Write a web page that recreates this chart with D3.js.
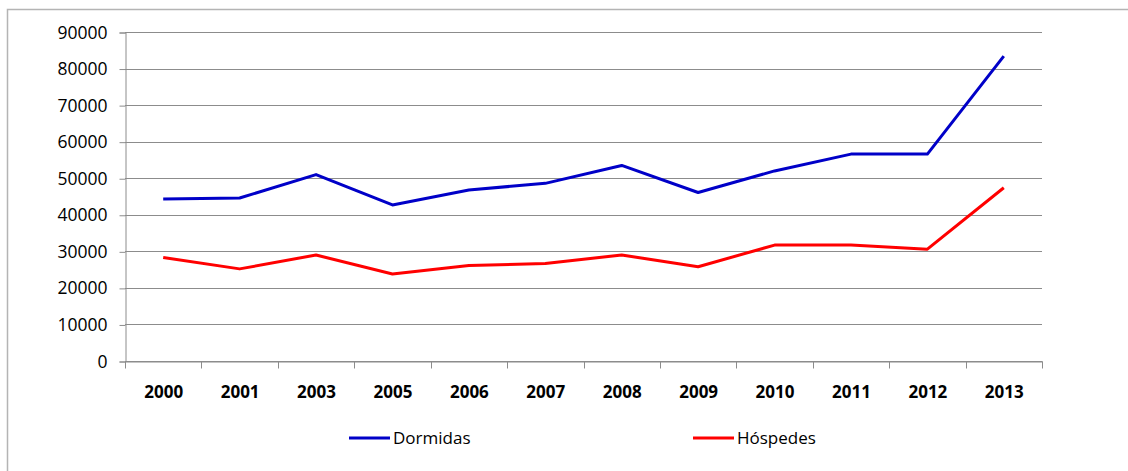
<!DOCTYPE html>
<html><head><meta charset="utf-8">
<script src="https://cdn.jsdelivr.net/npm/d3@7"></script>
<style>body{margin:0;background:#fff;}svg{display:block;}</style>
</head><body>
<svg id="c" width="1128" height="471"></svg>
<script>
const categories = ["2000","2001","2003","2005","2006","2007","2008","2009","2010","2011","2012","2013"];
const dormidas = [44300,44600,51000,42700,46800,48600,53500,46100,52000,56600,56600,83400];
const hospedes = [28300,25200,29000,23800,26100,26700,29000,25800,31700,31700,30600,47400];
const yTicks = [0,10000,20000,30000,40000,50000,60000,70000,80000,90000];
const seriesNames = ["Dormidas","Hóspedes"];
const colors = ["#0000c8","#ff0000"];

(function(){
const svg = d3.select("#c");
const font = "'Open Sans', 'Liberation Sans', sans-serif";
svg.append("rect").attr("x",7.5).attr("y",9.5).attr("width",1130).attr("height",480)
  .attr("fill","#fff").attr("stroke","#b4b4b4").attr("stroke-width",1.5);

const pl=125, pr=1042, pt=32, pb=361;
const x = d3.scaleBand().domain(categories).range([pl,pr]);
const y = d3.scaleLinear().domain([0,90000]).range([pb,pt]);

svg.append("g").selectAll("line").data(yTicks).join("line")
  .attr("x1",pl).attr("x2",pr).attr("y1",d=>Math.round(y(d))+0.5).attr("y2",d=>Math.round(y(d))+0.5)
  .attr("stroke","#8c8c8c").attr("stroke-width",1);

const ya = svg.append("g").attr("transform",`translate(${pl+0.5},0.5)`)
  .call(d3.axisLeft(y).tickValues(yTicks).tickSize(6).tickPadding(12).tickFormat(d3.format("d")));
ya.select(".domain").attr("stroke","#8c8c8c");
ya.selectAll(".tick line").attr("stroke","#8c8c8c");
ya.selectAll("text").attr("font-family",font).attr("font-size",17.5).attr("fill","#000");

const xa = svg.append("g").attr("transform",`translate(0.5,${pb+0.5})`)
  .call(d3.axisBottom(x).tickSize(0).tickPadding(24));
xa.select(".domain").attr("stroke","#8c8c8c");
xa.selectAll("text").attr("font-family",font).attr("font-size",17).attr("font-weight","bold").attr("fill","#000");
const bounds = categories.map(c=>x(c)).concat([pr]);
xa.append("g").selectAll("line").data(bounds).join("line")
  .attr("x1",d=>Math.round(d)).attr("x2",d=>Math.round(d)).attr("y1",0).attr("y2",7).attr("stroke","#8c8c8c");

const line = d3.line().x((d,i)=>x(categories[i])+x.bandwidth()/2).y(d=>y(d));
[dormidas,hospedes].forEach((s,i)=>{
  svg.append("path").datum(s).attr("d",line).attr("fill","none")
    .attr("stroke",colors[i]).attr("stroke-width",3).attr("stroke-linejoin","round");
});

const legX = [349,693];
seriesNames.forEach((n,i)=>{
  const g = svg.append("g").attr("transform",`translate(${legX[i]},438)`);
  g.append("line").attr("x1",0).attr("x2",41).attr("stroke",colors[i]).attr("stroke-width",3);
  g.append("text").attr("x",44).attr("y",6).text(n).attr("font-family",font).attr("font-size",17).attr("fill","#000");
});
})();
</script>
</body></html>
